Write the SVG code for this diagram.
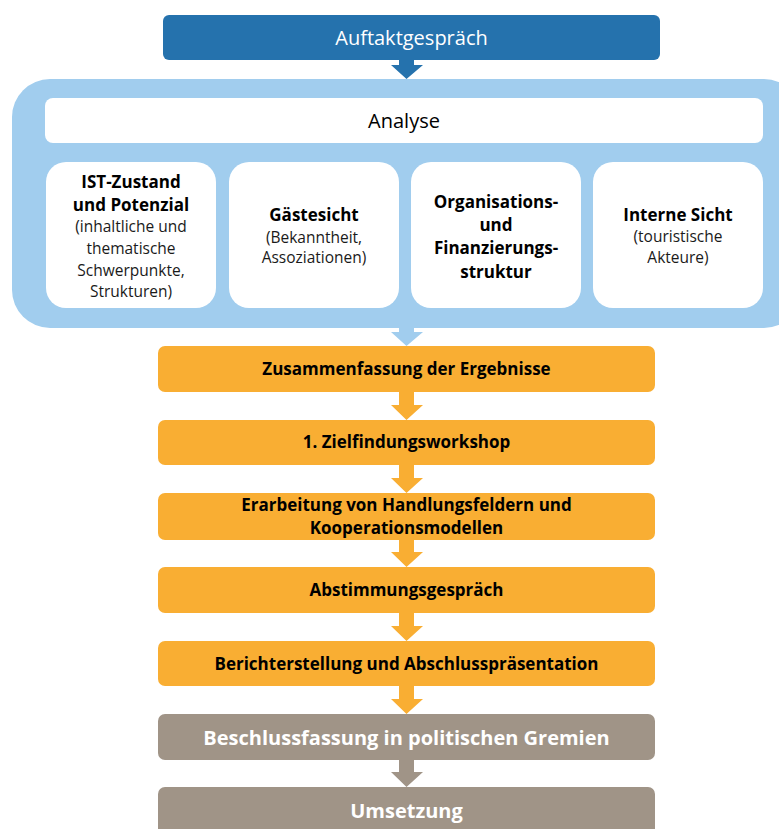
<svg xmlns="http://www.w3.org/2000/svg" width="779" height="829" viewBox="0 0 779 829">
<style>
text{font-family:"Open Sans","Noto Sans",sans-serif;text-anchor:middle}
.w{fill:#fff}
.b{font-weight:bold}
.t17{font-size:17px;font-weight:bold;fill:#000}
.s15{font-size:15.5px;fill:#1a1a1a}
.or{fill:#f9ae33}
.gr{fill:#a09487}
</style>
<rect width="779" height="829" fill="#fff"/>
<g id="analyse-group">
<rect x="12" y="79" width="790" height="249" rx="38" fill="#a1cdee"/>
</g>
<g id="connectors">
<polygon points="399,60 414,60 414,65 423,65 406.5,79 391,65 399,65" fill="#2572ad"/>
<polygon points="399,327 414,327 414,332 423,332 406.5,346 391,332 399,332" fill="#a1cdee"/>
<polygon points="399,392 414,392 414,405 423,405 406.5,420 391,405 399,405" class="or"/>
<polygon points="399,465 414,465 414,478 423,478 406.5,493 391,478 399,478" class="or"/>
<polygon points="399,540 414,540 414,552 423,552 406.5,567 391,552 399,552" class="or"/>
<polygon points="399,613 414,613 414,626 423,626 406.5,641 391,626 399,626" class="or"/>
<polygon points="399,686 414,686 414,699 423,699 406.5,714 391,699 399,699" class="or"/>
<polygon points="399,760 414,760 414,772 423,772 406.5,787 391,772 399,772" class="gr"/>
</g>
<g id="auftakt">
<rect x="163" y="15" width="497" height="45" rx="6" fill="#2572ad"/>
<text x="411.5" y="45" class="w" font-size="20">Auftaktgespräch</text>
</g>
<g id="analyse">
<rect x="45" y="98" width="718" height="45" rx="8" fill="#fff"/>
<text x="404" y="128" font-size="20" fill="#000">Analyse</text>
</g>
<g id="ist">
<rect x="46" y="162" width="170" height="146" rx="20" fill="#fff"/>
<text x="131" y="188" class="t17">IST-Zustand</text>
<text x="131" y="211" class="t17">und Potenzial</text>
<text x="131" y="232" class="s15">(inhaltliche und</text>
<text x="131" y="254" class="s15">thematische</text>
<text x="131" y="276" class="s15">Schwerpunkte,</text>
<text x="131" y="297" class="s15">Strukturen)</text>
</g>
<g id="gaeste">
<rect x="229" y="162" width="170" height="146" rx="20" fill="#fff"/>
<text x="314" y="221" class="t17">Gästesicht</text>
<text x="314" y="243" class="s15">(Bekanntheit,</text>
<text x="314" y="263" class="s15">Assoziationen)</text>
</g>
<g id="org">
<rect x="411" y="162" width="170" height="146" rx="20" fill="#fff"/>
<text x="496" y="208" class="t17">Organisations-</text>
<text x="496" y="231" class="t17">und</text>
<text x="496" y="254" class="t17">Finanzierungs-</text>
<text x="496" y="278" class="t17">struktur</text>
</g>
<g id="intern">
<rect x="593" y="162" width="170" height="146" rx="20" fill="#fff"/>
<text x="678" y="221" class="t17">Interne Sicht</text>
<text x="678" y="242" class="s15">(touristische</text>
<text x="678" y="263" class="s15">Akteure)</text>
</g>
<g id="zusammenfassung">
<rect x="158" y="346" width="497" height="46" rx="7" class="or"/>
<text x="406.5" y="375" class="t17">Zusammenfassung der Ergebnisse</text>
</g>
<g id="zielfindung">
<rect x="158" y="420" width="497" height="45" rx="7" class="or"/>
<text x="406.5" y="448" class="t17">1. Zielfindungsworkshop</text>
</g>
<g id="erarbeitung">
<rect x="158" y="493" width="497" height="47" rx="7" class="or"/>
<text x="406.5" y="511" class="t17">Erarbeitung von Handlungsfeldern und</text>
<text x="406.5" y="534" class="t17">Kooperationsmodellen</text>
</g>
<g id="abstimmung">
<rect x="158" y="567" width="497" height="46" rx="7" class="or"/>
<text x="406.5" y="596" class="t17">Abstimmungsgespräch</text>
</g>
<g id="bericht">
<rect x="158" y="641" width="497" height="45" rx="7" class="or"/>
<text x="406.5" y="670" class="t17">Berichterstellung und Abschlusspräsentation</text>
</g>
<g id="beschluss">
<rect x="158" y="714" width="497" height="46" rx="7" class="gr"/>
<text x="406.5" y="745" class="w b" font-size="20">Beschlussfassung in politischen Gremien</text>
</g>
<g id="umsetzung">
<rect x="158" y="787" width="497" height="50" rx="7" class="gr"/>
<text x="406.5" y="818" class="w b" font-size="20">Umsetzung</text>
</g>
</svg>
